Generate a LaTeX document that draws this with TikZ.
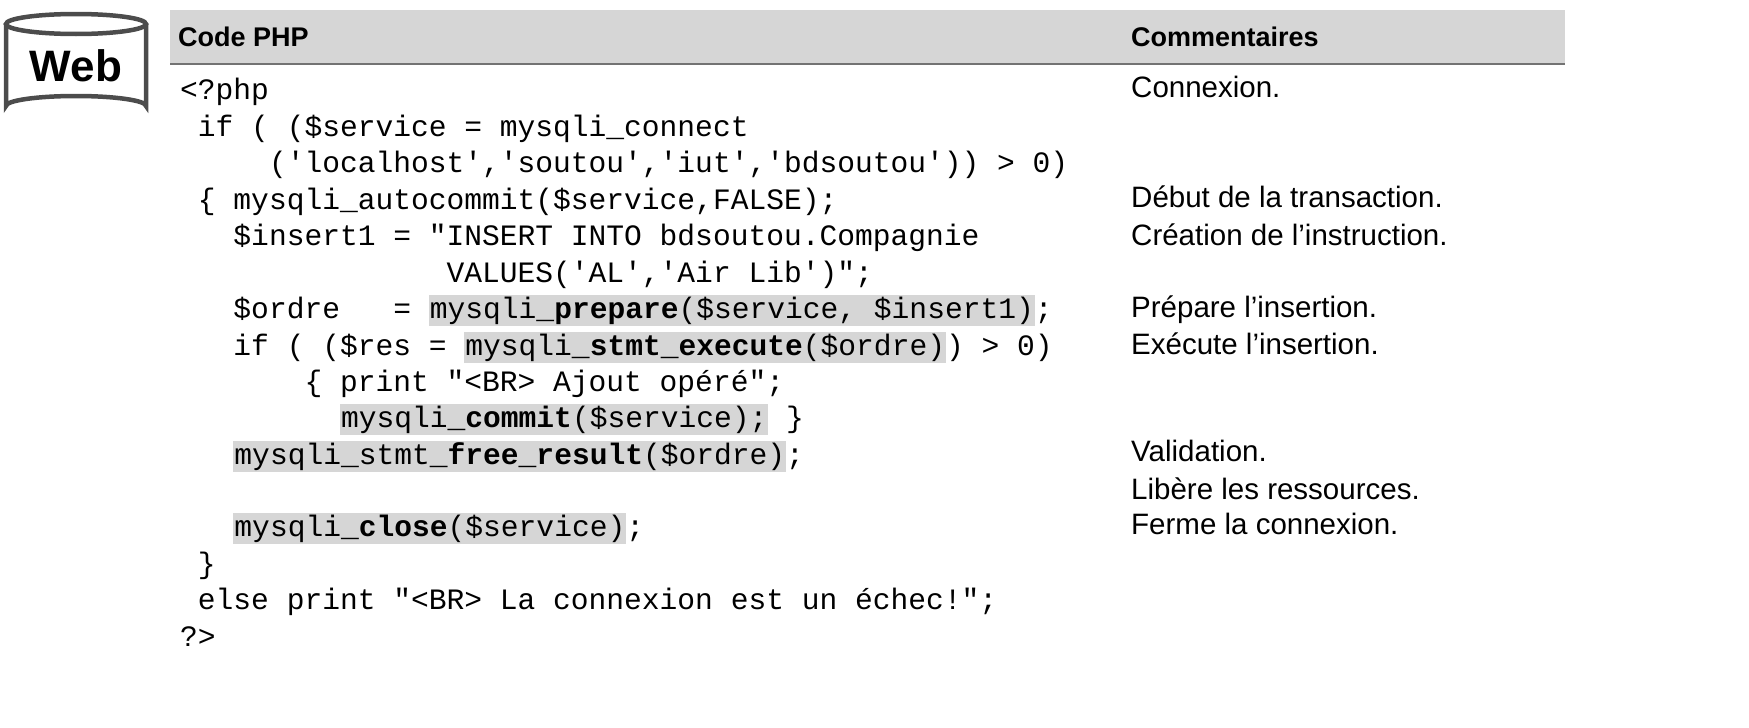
\documentclass[tikz,border=0pt]{standalone}
\usepackage{fontspec}
\setmainfont{Liberation Sans}
\newfontfamily\codef{Liberation Mono}
\definecolor{hl}{gray}{0.84}
\definecolor{hdr}{gray}{0.84}
\newcommand{\hlb}[1]{{\setlength\fboxsep{0pt}\colorbox{hl}{\rule[-8pt]{0pt}{31pt}\kern1pt#1\kern1pt}}}
\tikzset{
  code/.style={anchor=base west,inner sep=0pt,font=\codef\fontsize{29.6}{36}\selectfont},
  cmt/.style={anchor=base west,inner sep=0pt,font=\fontsize{29.5}{34}\selectfont},
  hd/.style={anchor=base west,inner sep=0pt,font=\bfseries\fontsize{27}{30}\selectfont},
}
\begin{document}
\begin{tikzpicture}[x=1pt,y=-1pt]
\useasboundingbox (0,0) rectangle (1749,728);
% Web cylinder
\draw[line width=4.5pt,draw=black!70] (6,24) -- (6,106) arc[start angle=180,end angle=360,x radius=70,y radius=10] -- (146,24);
\draw[line width=4.5pt,draw=black!70] (76,24) ellipse[x radius=70,y radius=10];
\node[inner sep=0pt,font=\bfseries\fontsize{44}{50}\selectfont] (web) at (76,66) {Web};
% header
\fill[hdr] (170,10) rectangle (1565,63);
\draw[line width=1.5pt,black!55] (170,64) -- (1565,64);
\node[hd] (h1) at (178,46) {Code PHP};
\node[hd] (h2) at (1131,46) {Commentaires};
% code lines
\def\cx#1{180+17.76*#1}
\node[code] (l1) at ({\cx{0}},99) {<?php};
\node[code] (l2) at ({\cx{1}},136) {if (\ (\$service = mysqli\_connect};
\node[code] (l3) at ({\cx{5}},172) {('localhost','soutou','iut','bdsoutou')) > 0)};
\node[code] (l4) at ({\cx{1}},209) {\{ mysqli\_autocommit(\$service,FALSE);};
\node[code] (l5) at ({\cx{3}},245) {\$insert1 = "INSERT INTO bdsoutou.Compagnie};
\node[code] (l6) at ({\cx{15}},282) {VALUES('AL','Air Lib')";};
\node[code] (l7) at ({\cx{3}},318) {\$ordre\ \ \ = \hlb{mysqli\_\textbf{prepare}(\$service, \$insert1)};};
\node[code] (l8) at ({\cx{3}},355) {if (\ (\$res = \hlb{mysqli\_\textbf{stmt\_execute}(\$ordre)}) > 0)};
\node[code] (l9) at ({\cx{7}},391) {\{ print "<BR> Ajout opéré";};
\node[code] (l10) at ({\cx{9}},427) {\hlb{mysqli\_\textbf{commit}(\$service);} \}};
\node[code] (l11) at ({\cx{3}},464) {\hlb{mysqli\_stmt\_\textbf{free\_result}(\$ordre)};};
\node[code] (l13) at ({\cx{3}},536) {\hlb{mysqli\_\textbf{close}(\$service)};};
\node[code] (l14) at ({\cx{1}},573) {\}};
\node[code] (l15) at ({\cx{1}},609) {else print "<BR> La connexion est un échec!";};
\node[code] (l16) at ({\cx{0}},646) {?>};
% comments
\node[cmt] (c1) at (1131,97) {Connexion.};
\node[cmt] (c2) at (1131,207) {Début de la transaction.};
\node[cmt] (c3) at (1131,245) {Création de l’instruction.};
\node[cmt] (c4) at (1131,317) {Prépare l’insertion.};
\node[cmt] (c5) at (1131,354) {Exécute l’insertion.};
\node[cmt] (c6) at (1131,461) {Validation.};
\node[cmt] (c7) at (1131,499) {Libère les ressources.};
\node[cmt] (c8) at (1131,534) {Ferme la connexion.};
\end{tikzpicture}
\end{document}
